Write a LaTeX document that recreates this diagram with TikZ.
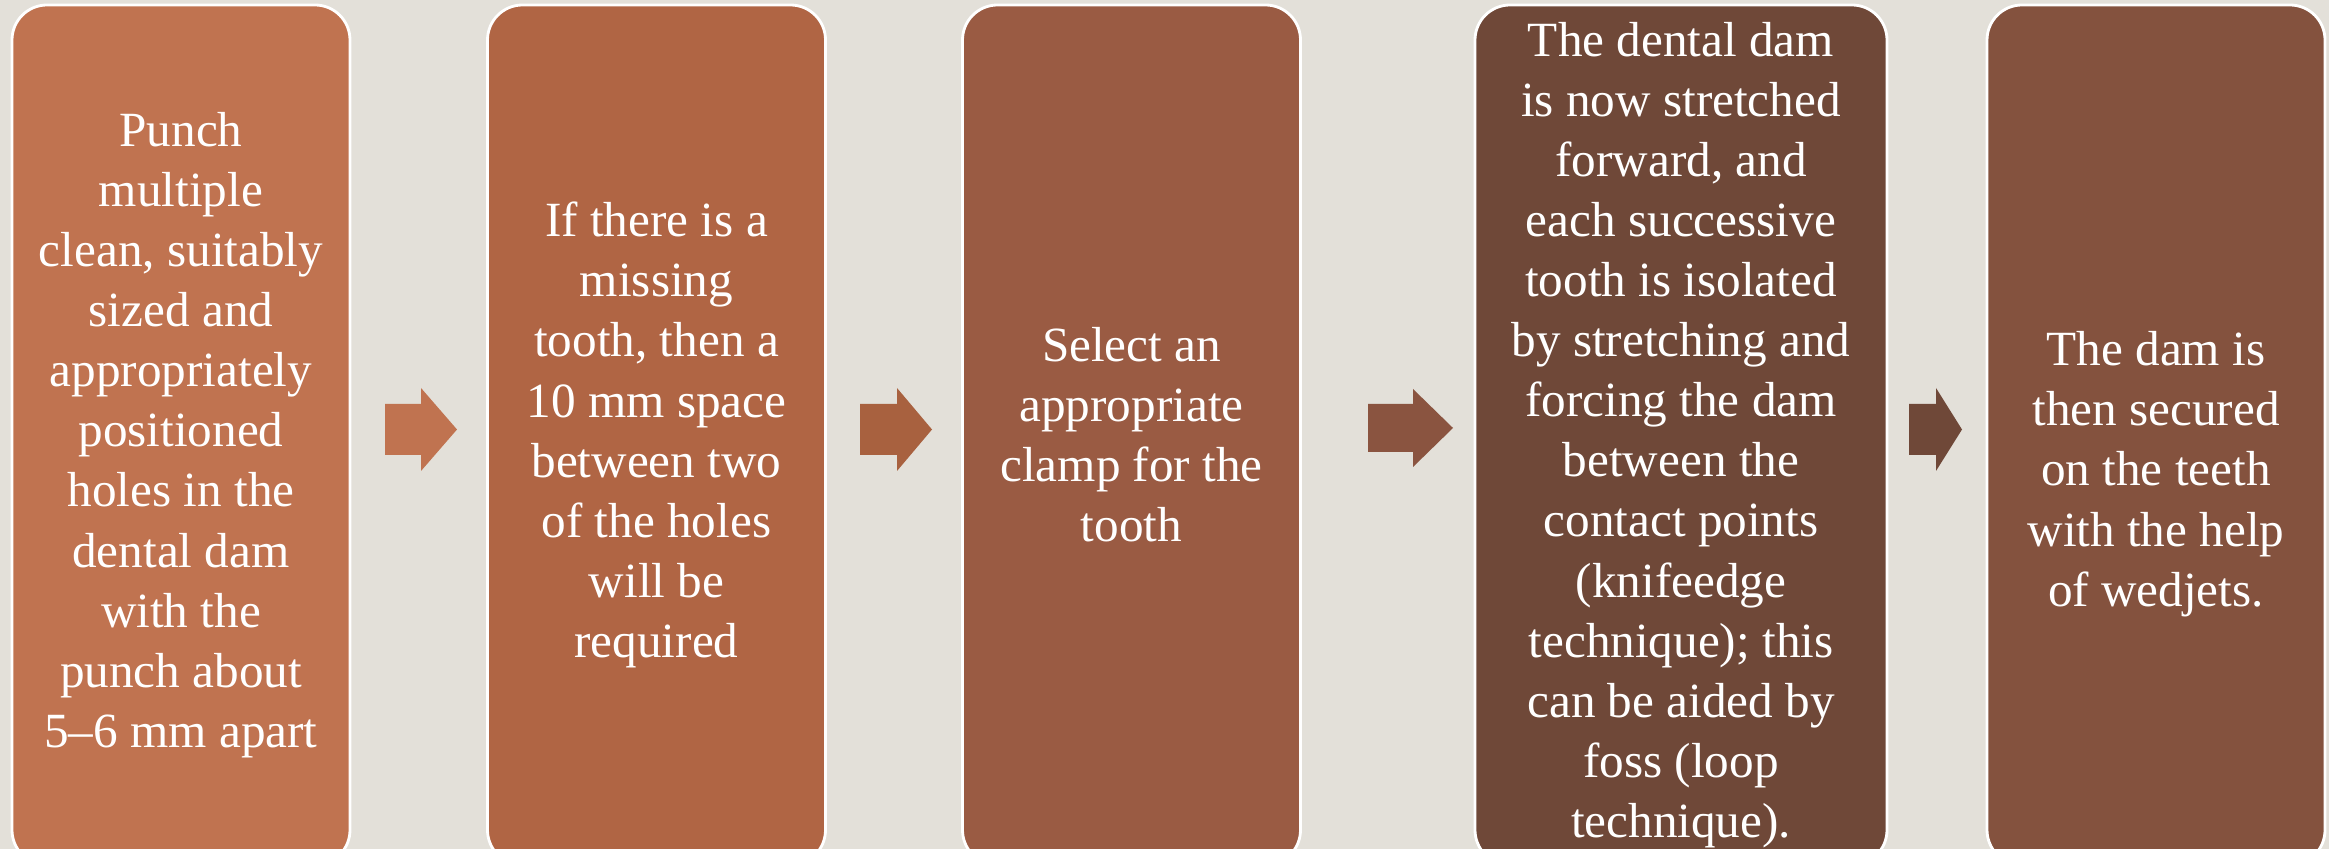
\documentclass[tikz,border=0pt]{standalone}
\usepackage{fontspec}
\setmainfont{Liberation Serif}
\definecolor{pagebg}{HTML}{E3E0D9}
\definecolor{stepA}{HTML}{C07350}
\definecolor{stepB}{HTML}{B06544}
\definecolor{stepC}{HTML}{9A5B43}
\definecolor{stepD}{HTML}{6F4838}
\definecolor{stepE}{HTML}{84523E}
\definecolor{arrB}{HTML}{A8613F}
\definecolor{arrC}{HTML}{8A5440}
\tikzset{
  stepbox/.style={draw=white, line width=0.8pt, rounded corners=0.35cm,
    minimum width=3.38cm, minimum height=8.60cm, inner sep=0pt,
    text=white, align=center, font=\fontsize{14}{17.1}\selectfont}
}
\begin{document}
\begin{tikzpicture}
      \useasboundingbox (0,0) rectangle (23.29,8.49);
      \clip (0,0) rectangle (23.29,8.49);
      \fill[pagebg] (0,0) rectangle (23.29,8.49);
      \draw
        (1.81,4.14) node[stepbox, fill=stepA] (punch){Punch\\multiple\\clean, suitably\\sized and\\appropriately\\positioned\\holes in the\\dental dam\\with the\\punch about\\5–6 mm apart}
        (6.565,4.14) node[stepbox, fill=stepB] (space){If there is a\\missing\\tooth, then a\\10 mm space\\between two\\of the holes\\will be\\required}
        (11.315,4.14) node[stepbox, fill=stepC] (clamp){Select an\\appropriate\\clamp for the\\tooth}
        (16.81,4.14) node[stepbox, fill=stepD, minimum width=4.12cm] (stretch){The dental dam\\is now stretched\\forward, and\\each successive\\tooth is isolated\\by stretching and\\forcing the dam\\between the\\contact points\\(knifeedge\\technique); this\\can be aided by\\foss (loop\\technique).}
        (21.56,4.14) node[stepbox, fill=stepE] (secure){\rule{0pt}{32pt}The dam is\\then secured\\on the teeth\\with the help\\of wedjets.};
      % block arrows between the steps
      \fill[stepA] (3.85,3.94) -- (4.21,3.94) -- (4.21,3.78) -- (4.57,4.195)
        -- (4.21,4.61) -- (4.21,4.45) -- (3.85,4.45) -- cycle;
      \fill[arrB] (8.60,3.94) -- (8.97,3.94) -- (8.97,3.78) -- (9.32,4.195)
        -- (8.97,4.61) -- (8.97,4.45) -- (8.60,4.45) -- cycle;
      \fill[arrC] (13.68,3.97) -- (14.13,3.97) -- (14.13,3.82) -- (14.53,4.21)
        -- (14.13,4.60) -- (14.13,4.45) -- (13.68,4.45) -- cycle;
      \fill[stepD] (19.09,3.94) -- (19.36,3.94) -- (19.36,3.78) -- (19.62,4.195)
        -- (19.36,4.61) -- (19.36,4.45) -- (19.09,4.45) -- cycle;
    \end{tikzpicture}
\end{document}
